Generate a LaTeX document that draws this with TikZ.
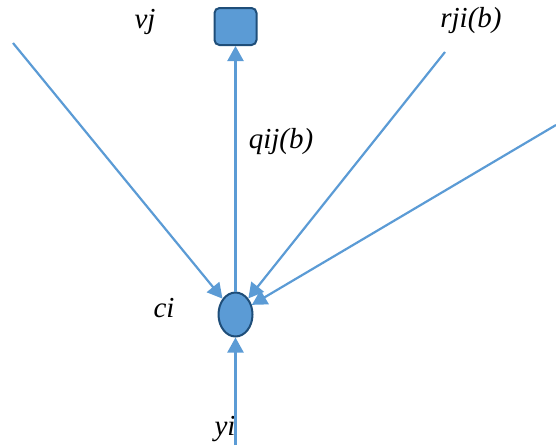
\documentclass[tikz,border=0pt]{standalone}
\usepackage{fontspec}
\setmainfont{Liberation Serif}
\usepackage{xcolor}
\usetikzlibrary{positioning, arrows.meta, shapes.geometric}

\definecolor{edgeblue}{RGB}{91,155,213}
\definecolor{darkblue}{RGB}{31,78,121}

\begin{document}
\begin{tikzpicture}[
    x=1pt, y=-1pt,
    check/.style={
        rectangle,
        rounded corners=5pt,
        draw=darkblue,
        line width=2pt,
        fill=edgeblue,
        minimum width=42pt,
        minimum height=37pt,
        inner sep=0pt
    },
    var/.style={
        ellipse,
        draw=darkblue,
        line width=2pt,
        fill=edgeblue,
        minimum width=34pt,
        minimum height=44pt,
        inner sep=0pt
    },
    lbl/.style={
        font=\fontsize{29}{32}\selectfont\itshape,
        inner sep=0pt
    },
    arrow/.style={
        draw=edgeblue,
        line width=2.2pt,
        -{Triangle[width=16pt,length=15pt]}
    }
]
\useasboundingbox (0,0) rectangle (556,445);

% Nodes
\node[check] (vj) at (235.5,26.5) {};
\node[var] (ci) at (235.5,314.5) {};

% Free ends
\coordinate (left) at (13,43);
\coordinate (right) at (445,52);
\coordinate (farright) at (556,125);
\coordinate (bottom) at (235.5,445);

% Labels
\node[lbl] (vjlabel) at (145,22) {vj};
\node[lbl] (rjilabel) at (471,21) {rji(b)};
\node[lbl] (qijlabel) at (281,142) {qij(b)};
\node[lbl] (cilabel) at (164,308) {ci};
\node[lbl] (yilabel) at (225,429) {yi};

% Arrows
\draw[arrow] (left) -- (ci);
\draw[arrow] (right) -- (ci);
\draw[arrow] (farright) -- (ci);
\draw[arrow] (bottom) -- (ci);
\draw[arrow] (ci) -- (vj);

\end{tikzpicture}
\end{document}
